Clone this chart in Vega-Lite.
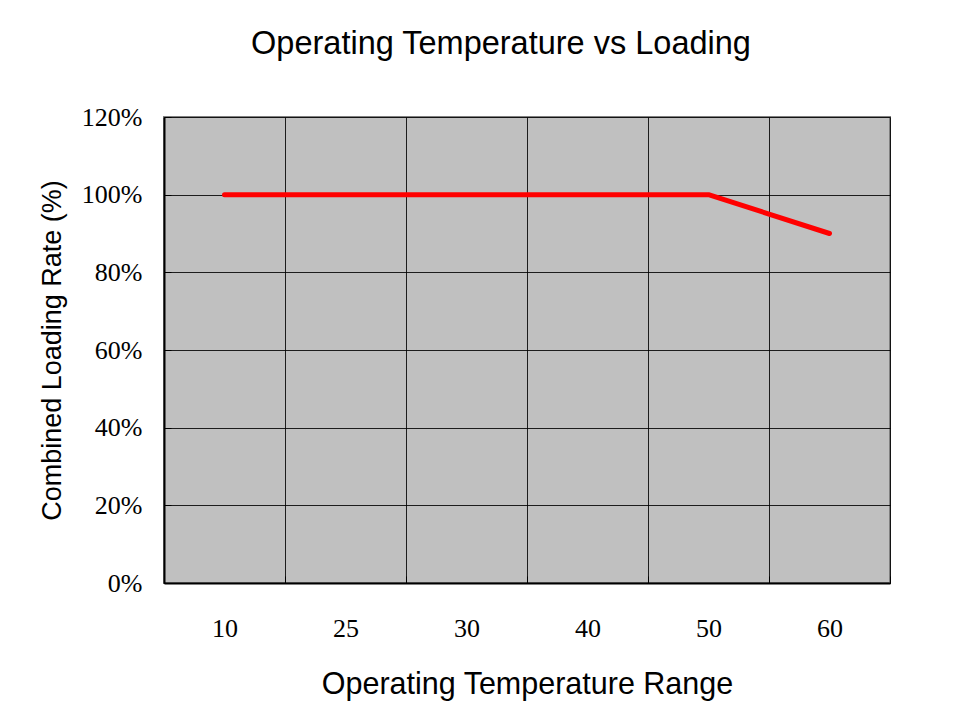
{
  "$schema": "https://vega.github.io/schema/vega-lite/v6.json",
  "autosize": {"type": "none"},
  "padding": {"left": 164, "top": 117, "right": 89, "bottom": 126},
  "width": 726,
  "height": 466,
  "background": "white",
  "title": {
    "text": "Operating Temperature vs Loading",
    "font": "Liberation Sans",
    "fontSize": 32.5,
    "fontWeight": "normal",
    "color": "black",
    "anchor": "middle",
    "dx": -26,
    "offset": 44
  },
  "config": {
    "view": {"fill": "#c0c0c0", "stroke": "#808080", "strokeWidth": 2}
  },
  "data": {
    "values": [
      {"temp": "10", "load": 1.0},
      {"temp": "25", "load": 1.0},
      {"temp": "30", "load": 1.0},
      {"temp": "40", "load": 1.0},
      {"temp": "50", "load": 1.0},
      {"temp": "60", "load": 0.9}
    ]
  },
  "mark": {"type": "line", "color": "#ff0000", "strokeWidth": 5, "strokeCap": "round", "strokeJoin": "round"},
  "encoding": {
    "x": {
      "field": "temp",
      "type": "ordinal",
      "sort": null,
      "scale": {"paddingInner": 0, "paddingOuter": 0},
      "axis": {
        "title": "Operating Temperature Range",
        "titleFont": "Liberation Sans",
        "titleFontSize": 30.5,
        "titleFontWeight": "normal",
        "titleColor": "black",
        "titlePadding": 28,
        "labelFont": "Liberation Serif",
        "labelFontSize": 26,
        "labelFontWeight": "normal",
        "labelColor": "black",
        "labelAngle": 0,
        "labelPadding": 39,
        "tickBand": "extent",
        "ticks": true,
        "tickSize": -7,
        "tickColor": "black",
        "grid": true,
        "gridColor": "black",
        "gridWidth": 1,
        "gridOpacity": 0.85,
        "domainColor": "black",
        "domainWidth": 2
      }
    },
    "y": {
      "field": "load",
      "type": "quantitative",
      "scale": {"domain": [0, 1.2], "nice": false},
      "axis": {
        "title": "Combined Loading Rate (%)",
        "titleFont": "Liberation Sans",
        "titleFontSize": 27,
        "titleFontWeight": "normal",
        "titleColor": "black",
        "titlePadding": 15,
        "values": [0, 0.2, 0.4, 0.6, 0.8, 1.0, 1.2],
        "format": ".0%",
        "labelFont": "Liberation Serif",
        "labelFontSize": 26,
        "labelFontWeight": "normal",
        "labelColor": "black",
        "labelPadding": 29,
        "ticks": true,
        "tickSize": -7,
        "tickColor": "black",
        "grid": true,
        "gridColor": "black",
        "gridWidth": 1,
        "gridOpacity": 0.85,
        "domainColor": "black",
        "domainWidth": 2
      }
    }
  }
}
